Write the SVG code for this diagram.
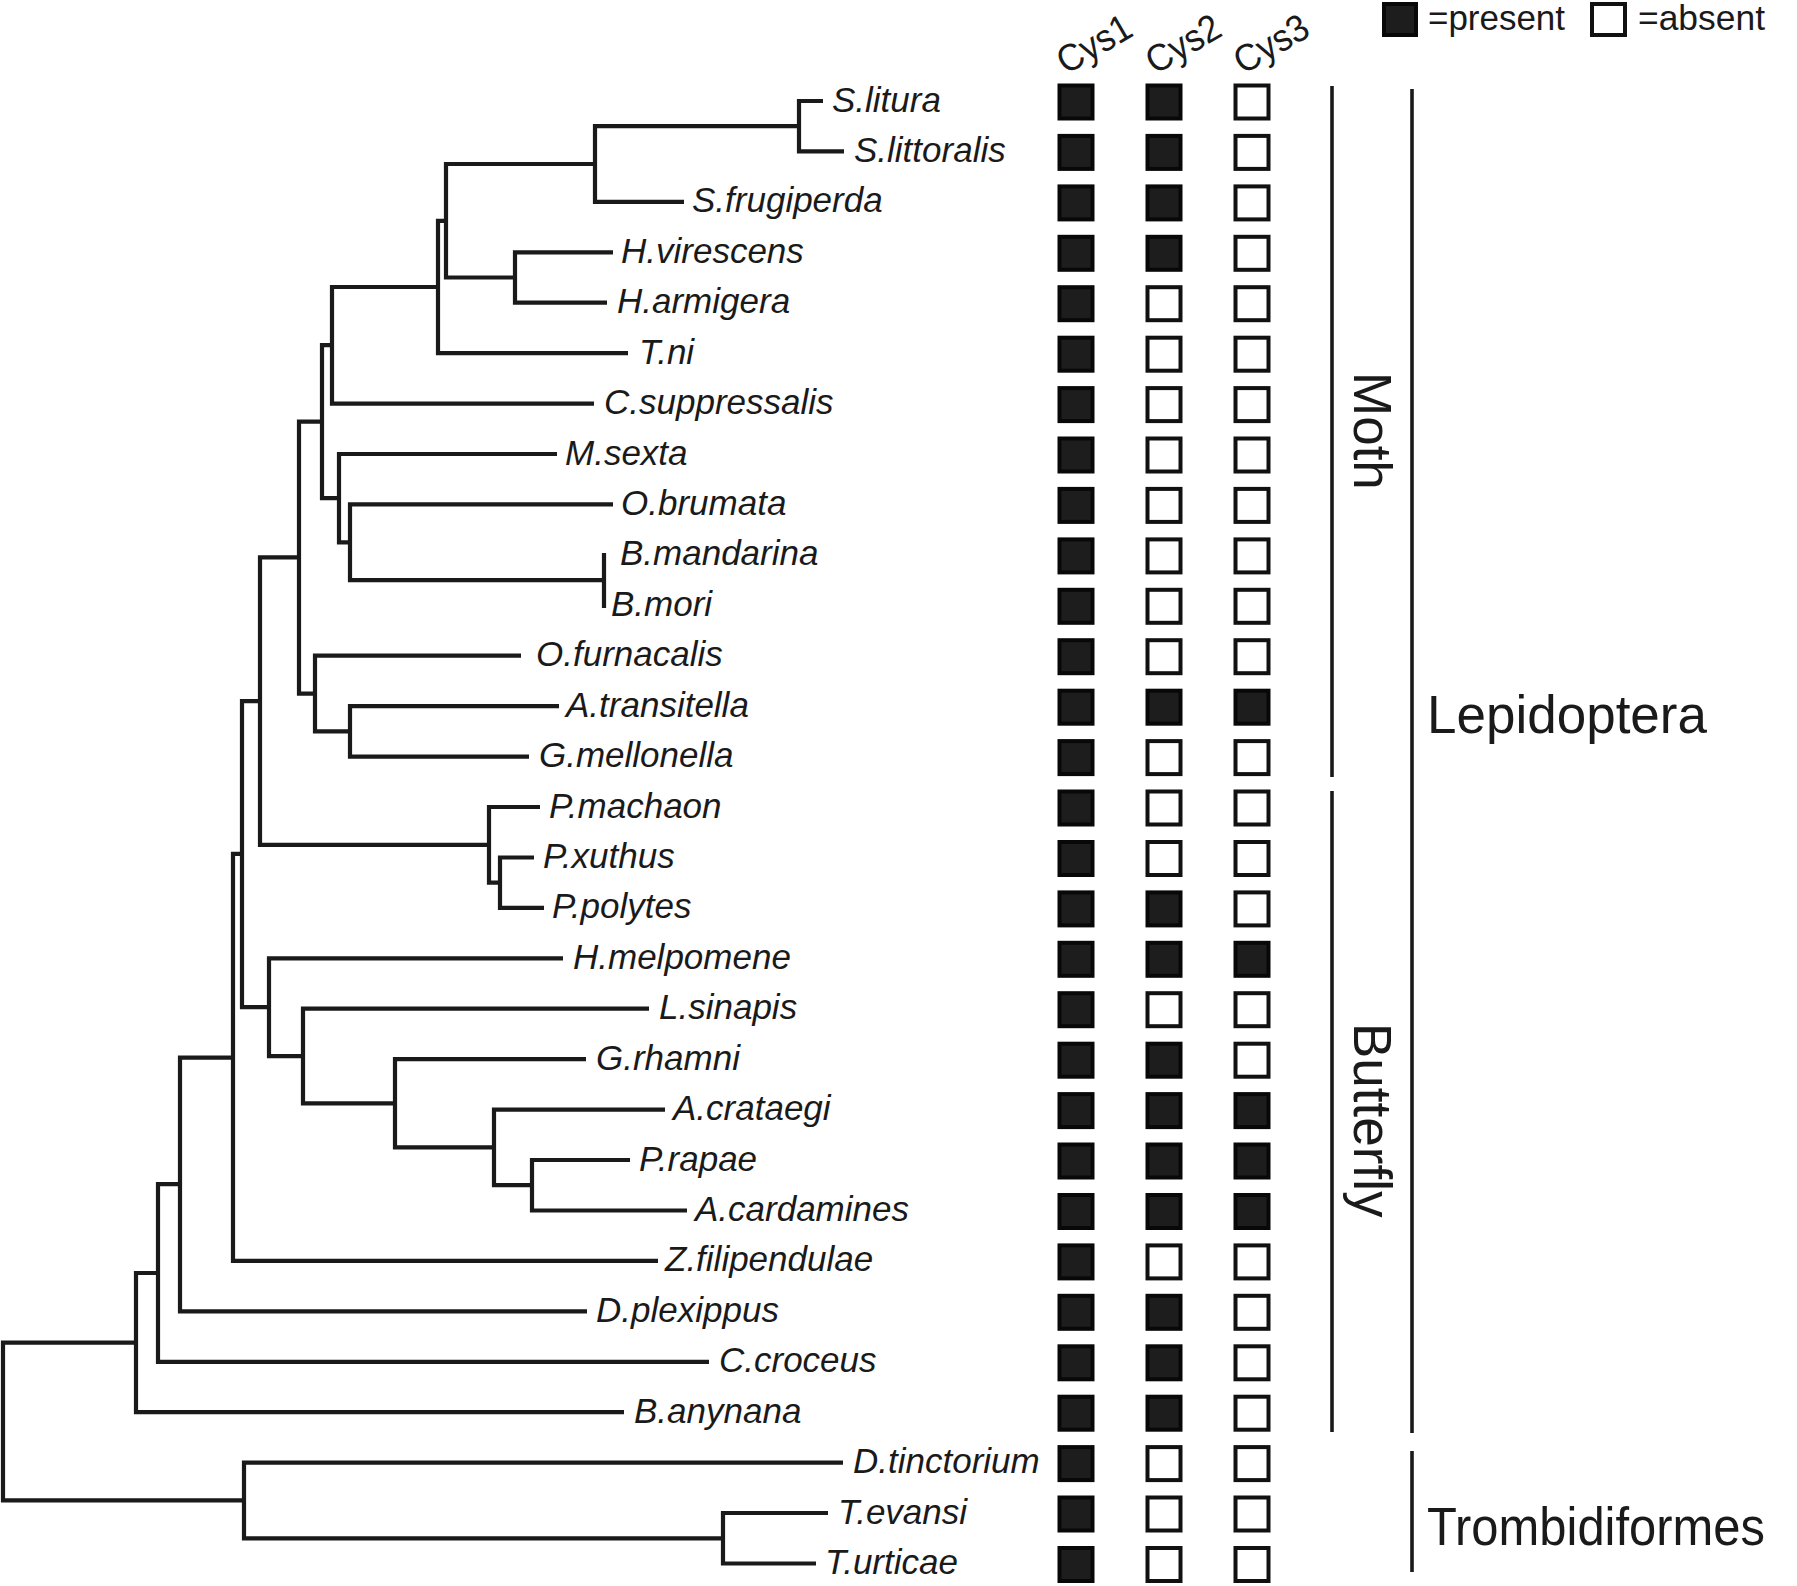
<svg xmlns="http://www.w3.org/2000/svg" width="1797" height="1586" viewBox="0 0 1797 1586">
<style>
.tr{fill:none;stroke:#1a1a1a;stroke-width:4.2;stroke-linejoin:miter;stroke-linecap:butt}
.gl{fill:none;stroke:#1a1a1a;stroke-width:3.6}
.t{font-family:"Liberation Sans",Arial,sans-serif;font-style:italic;font-size:35px;fill:#1a1a1a}
.h{font-family:"Liberation Sans",Arial,sans-serif;font-size:38px;fill:#1a1a1a}
.lg{font-family:"Liberation Sans",Arial,sans-serif;font-size:35px;fill:#1a1a1a}
.g{font-family:"Liberation Sans",Arial,sans-serif;font-size:53px;fill:#1a1a1a}
.p{fill:#1d1d1d;stroke:#080808;stroke-width:4}
.a{fill:#ffffff;stroke:#111111;stroke-width:4}
</style>
<rect width="1797" height="1586" fill="#ffffff"/>
<g id="connectors" class="tr">
<path d="M823,101 H799 V151.4 H844"/>
<path d="M799,126.2 H595 V201.9 H684"/>
<path d="M613,252.3 H515 V302.7 H607"/>
<path d="M595,164 H446 V277.5 H515"/>
<path d="M446,220.8 H438 V353.2 H628"/>
<path d="M438,287 H332 V403.6 H594"/>
<path d="M604,553 V608"/>
<path d="M613,504.4 H350 V580.1 H604"/>
<path d="M557,454 H339 V542.3 H350"/>
<path d="M332,345.1 H322 V498.1 H339"/>
<path d="M559,706.2 H350 V756.6 H529"/>
<path d="M521,655.7 H315 V731.4 H350"/>
<path d="M322,421.7 H299 V693.6 H315"/>
<path d="M534,857.5 H500 V907.9 H544"/>
<path d="M540,807 H489 V882.7 H500"/>
<path d="M299,557.4 H260 V844.8 H489"/>
<path d="M630,1160 H532 V1210.5 H687"/>
<path d="M665,1109.6 H494 V1185.2 H532"/>
<path d="M586,1059.2 H395 V1147.4 H494"/>
<path d="M649,1008.7 H303 V1103.3 H395"/>
<path d="M563,958.3 H269 V1056.1 H303"/>
<path d="M260,701.1 H242 V1007.2 H269"/>
<path d="M242,853.9 H233 V1260.9 H658"/>
<path d="M233,1057.7 H180 V1311.3 H587"/>
<path d="M180,1184.2 H158 V1361.8 H709"/>
<path d="M158,1273 H136 V1412.2 H624"/>
<path d="M828,1513 H723 V1563.5 H816"/>
<path d="M843,1462.6 H244 V1538.3 H723"/>
<path d="M136,1342.6 H3 V1500.4 H244"/>
</g>
<g id="header">
<text class="h" transform="translate(1066,75) rotate(-30)" textLength="80" lengthAdjust="spacingAndGlyphs">Cys1</text>
<text class="h" transform="translate(1155,75) rotate(-30)" textLength="80" lengthAdjust="spacingAndGlyphs">Cys2</text>
<text class="h" transform="translate(1243,75) rotate(-30)" textLength="80" lengthAdjust="spacingAndGlyphs">Cys3</text>
</g>
<g id="legend">
<rect class="p" x="1384" y="4" width="32" height="31"/>
<text class="lg" x="1428" y="30" textLength="137" lengthAdjust="spacingAndGlyphs">=present</text>
<rect class="a" x="1592" y="4" width="33" height="31"/>
<text class="lg" x="1638" y="30" textLength="127" lengthAdjust="spacingAndGlyphs">=absent</text>
</g>
<g id="taxon-S-litura"><text class="t" x="832" y="111.5">S.litura</text><rect class="p" x="1059.5" y="85.5" width="33" height="33"/><rect class="p" x="1147.5" y="85.5" width="33" height="33"/><rect class="a" x="1235.5" y="85.5" width="33" height="33"/></g>
<g id="taxon-S-littoralis"><text class="t" x="854" y="161.9">S.littoralis</text><rect class="p" x="1059.5" y="135.9" width="33" height="33"/><rect class="p" x="1147.5" y="135.9" width="33" height="33"/><rect class="a" x="1235.5" y="135.9" width="33" height="33"/></g>
<g id="taxon-S-frugiperda"><text class="t" x="692" y="212.4">S.frugiperda</text><rect class="p" x="1059.5" y="186.4" width="33" height="33"/><rect class="p" x="1147.5" y="186.4" width="33" height="33"/><rect class="a" x="1235.5" y="186.4" width="33" height="33"/></g>
<g id="taxon-H-virescens"><text class="t" x="621" y="262.8">H.virescens</text><rect class="p" x="1059.5" y="236.8" width="33" height="33"/><rect class="p" x="1147.5" y="236.8" width="33" height="33"/><rect class="a" x="1235.5" y="236.8" width="33" height="33"/></g>
<g id="taxon-H-armigera"><text class="t" x="617" y="313.2">H.armigera</text><rect class="p" x="1059.5" y="287.2" width="33" height="33"/><rect class="a" x="1147.5" y="287.2" width="33" height="33"/><rect class="a" x="1235.5" y="287.2" width="33" height="33"/></g>
<g id="taxon-T-ni"><text class="t" x="639" y="363.7">T.ni</text><rect class="p" x="1059.5" y="337.7" width="33" height="33"/><rect class="a" x="1147.5" y="337.7" width="33" height="33"/><rect class="a" x="1235.5" y="337.7" width="33" height="33"/></g>
<g id="taxon-C-suppressalis"><text class="t" x="604" y="414.1">C.suppressalis</text><rect class="p" x="1059.5" y="388.1" width="33" height="33"/><rect class="a" x="1147.5" y="388.1" width="33" height="33"/><rect class="a" x="1235.5" y="388.1" width="33" height="33"/></g>
<g id="taxon-M-sexta"><text class="t" x="565" y="464.5">M.sexta</text><rect class="p" x="1059.5" y="438.5" width="33" height="33"/><rect class="a" x="1147.5" y="438.5" width="33" height="33"/><rect class="a" x="1235.5" y="438.5" width="33" height="33"/></g>
<g id="taxon-O-brumata"><text class="t" x="621" y="514.9">O.brumata</text><rect class="p" x="1059.5" y="488.9" width="33" height="33"/><rect class="a" x="1147.5" y="488.9" width="33" height="33"/><rect class="a" x="1235.5" y="488.9" width="33" height="33"/></g>
<g id="taxon-B-mandarina"><text class="t" x="620" y="565.4">B.mandarina</text><rect class="p" x="1059.5" y="539.4" width="33" height="33"/><rect class="a" x="1147.5" y="539.4" width="33" height="33"/><rect class="a" x="1235.5" y="539.4" width="33" height="33"/></g>
<g id="taxon-B-mori"><text class="t" x="611" y="615.8">B.mori</text><rect class="p" x="1059.5" y="589.8" width="33" height="33"/><rect class="a" x="1147.5" y="589.8" width="33" height="33"/><rect class="a" x="1235.5" y="589.8" width="33" height="33"/></g>
<g id="taxon-O-furnacalis"><text class="t" x="536" y="666.2">O.furnacalis</text><rect class="p" x="1059.5" y="640.2" width="33" height="33"/><rect class="a" x="1147.5" y="640.2" width="33" height="33"/><rect class="a" x="1235.5" y="640.2" width="33" height="33"/></g>
<g id="taxon-A-transitella"><text class="t" x="566" y="716.7">A.transitella</text><rect class="p" x="1059.5" y="690.7" width="33" height="33"/><rect class="p" x="1147.5" y="690.7" width="33" height="33"/><rect class="p" x="1235.5" y="690.7" width="33" height="33"/></g>
<g id="taxon-G-mellonella"><text class="t" x="539" y="767.1">G.mellonella</text><rect class="p" x="1059.5" y="741.1" width="33" height="33"/><rect class="a" x="1147.5" y="741.1" width="33" height="33"/><rect class="a" x="1235.5" y="741.1" width="33" height="33"/></g>
<g id="taxon-P-machaon"><text class="t" x="549" y="817.5">P.machaon</text><rect class="p" x="1059.5" y="791.5" width="33" height="33"/><rect class="a" x="1147.5" y="791.5" width="33" height="33"/><rect class="a" x="1235.5" y="791.5" width="33" height="33"/></g>
<g id="taxon-P-xuthus"><text class="t" x="543" y="868">P.xuthus</text><rect class="p" x="1059.5" y="842" width="33" height="33"/><rect class="a" x="1147.5" y="842" width="33" height="33"/><rect class="a" x="1235.5" y="842" width="33" height="33"/></g>
<g id="taxon-P-polytes"><text class="t" x="552" y="918.4">P.polytes</text><rect class="p" x="1059.5" y="892.4" width="33" height="33"/><rect class="p" x="1147.5" y="892.4" width="33" height="33"/><rect class="a" x="1235.5" y="892.4" width="33" height="33"/></g>
<g id="taxon-H-melpomene"><text class="t" x="573" y="968.8">H.melpomene</text><rect class="p" x="1059.5" y="942.8" width="33" height="33"/><rect class="p" x="1147.5" y="942.8" width="33" height="33"/><rect class="p" x="1235.5" y="942.8" width="33" height="33"/></g>
<g id="taxon-L-sinapis"><text class="t" x="659" y="1019.2">L.sinapis</text><rect class="p" x="1059.5" y="993.2" width="33" height="33"/><rect class="a" x="1147.5" y="993.2" width="33" height="33"/><rect class="a" x="1235.5" y="993.2" width="33" height="33"/></g>
<g id="taxon-G-rhamni"><text class="t" x="596" y="1069.7">G.rhamni</text><rect class="p" x="1059.5" y="1043.7" width="33" height="33"/><rect class="p" x="1147.5" y="1043.7" width="33" height="33"/><rect class="a" x="1235.5" y="1043.7" width="33" height="33"/></g>
<g id="taxon-A-crataegi"><text class="t" x="673" y="1120.1">A.crataegi</text><rect class="p" x="1059.5" y="1094.1" width="33" height="33"/><rect class="p" x="1147.5" y="1094.1" width="33" height="33"/><rect class="p" x="1235.5" y="1094.1" width="33" height="33"/></g>
<g id="taxon-P-rapae"><text class="t" x="639" y="1170.5">P.rapae</text><rect class="p" x="1059.5" y="1144.5" width="33" height="33"/><rect class="p" x="1147.5" y="1144.5" width="33" height="33"/><rect class="p" x="1235.5" y="1144.5" width="33" height="33"/></g>
<g id="taxon-A-cardamines"><text class="t" x="695" y="1221">A.cardamines</text><rect class="p" x="1059.5" y="1195" width="33" height="33"/><rect class="p" x="1147.5" y="1195" width="33" height="33"/><rect class="p" x="1235.5" y="1195" width="33" height="33"/></g>
<g id="taxon-Z-filipendulae"><text class="t" x="665" y="1271.4">Z.filipendulae</text><rect class="p" x="1059.5" y="1245.4" width="33" height="33"/><rect class="a" x="1147.5" y="1245.4" width="33" height="33"/><rect class="a" x="1235.5" y="1245.4" width="33" height="33"/></g>
<g id="taxon-D-plexippus"><text class="t" x="596" y="1321.8">D.plexippus</text><rect class="p" x="1059.5" y="1295.8" width="33" height="33"/><rect class="p" x="1147.5" y="1295.8" width="33" height="33"/><rect class="a" x="1235.5" y="1295.8" width="33" height="33"/></g>
<g id="taxon-C-croceus"><text class="t" x="719" y="1372.3">C.croceus</text><rect class="p" x="1059.5" y="1346.3" width="33" height="33"/><rect class="p" x="1147.5" y="1346.3" width="33" height="33"/><rect class="a" x="1235.5" y="1346.3" width="33" height="33"/></g>
<g id="taxon-B-anynana"><text class="t" x="634" y="1422.7">B.anynana</text><rect class="p" x="1059.5" y="1396.7" width="33" height="33"/><rect class="p" x="1147.5" y="1396.7" width="33" height="33"/><rect class="a" x="1235.5" y="1396.7" width="33" height="33"/></g>
<g id="taxon-D-tinctorium"><text class="t" x="853" y="1473.1">D.tinctorium</text><rect class="p" x="1059.5" y="1447.1" width="33" height="33"/><rect class="a" x="1147.5" y="1447.1" width="33" height="33"/><rect class="a" x="1235.5" y="1447.1" width="33" height="33"/></g>
<g id="taxon-T-evansi"><text class="t" x="838" y="1523.5">T.evansi</text><rect class="p" x="1059.5" y="1497.5" width="33" height="33"/><rect class="a" x="1147.5" y="1497.5" width="33" height="33"/><rect class="a" x="1235.5" y="1497.5" width="33" height="33"/></g>
<g id="taxon-T-urticae"><text class="t" x="825" y="1574">T.urticae</text><rect class="p" x="1059.5" y="1548" width="33" height="33"/><rect class="a" x="1147.5" y="1548" width="33" height="33"/><rect class="a" x="1235.5" y="1548" width="33" height="33"/></g>
<g id="group-Moth"><line class="gl" x1="1332" y1="86" x2="1332" y2="777"/><text class="g" transform="translate(1354,372) rotate(90)">Moth</text></g>
<g id="group-Butterfly"><line class="gl" x1="1332" y1="791" x2="1332" y2="1432"/><text class="g" transform="translate(1354,1023) rotate(90)">Butterfly</text></g>
<g id="group-Lepidoptera"><line class="gl" x1="1412" y1="89" x2="1412" y2="1433"/><text class="g" x="1427" y="733">Lepidoptera</text></g>
<g id="group-Trombidiformes"><line class="gl" x1="1412" y1="1451" x2="1412" y2="1572"/><text class="g" x="1427" y="1545" textLength="338" lengthAdjust="spacingAndGlyphs">Trombidiformes</text></g>
</svg>
